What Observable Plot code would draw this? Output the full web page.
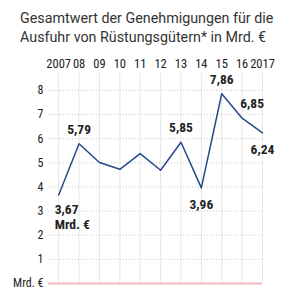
<!DOCTYPE html>
<html>
<head>
<meta charset="utf-8">
<script src="https://cdn.jsdelivr.net/npm/d3@7"></script>
<script src="https://cdn.jsdelivr.net/npm/@observablehq/plot@0.6"></script>
<style>
  html, body { margin: 0; padding: 0; background: #fff; width: 300px; height: 300px; overflow: hidden; }
  #title { font-family: Roboto, "Liberation Sans", sans-serif; font-size: 14.3px; line-height: 19px; color: #333; padding: 9px 0 0 20px; height: 41px; white-space: nowrap; }
  #chart svg { display: block; }
</style>
</head>
<body>
<div id="title">Gesamtwert der Genehmigungen für die<br>Ausfuhr von Rüstungsgütern* in Mrd. €</div>
<div id="chart"></div>
<script>
// Genehmigungswerte für Rüstungsexporte, Mrd. €
const years = [2007, 2008, 2009, 2010, 2011, 2012, 2013, 2014, 2015, 2016, 2017];
const values = [3.67, 5.79, 5.01, 4.73, 5.38, 4.69, 5.85, 3.96, 7.86, 6.85, 6.24];
const yTicks = [0, 1, 2, 3, 4, 5, 6, 7, 8];

// Beschriftete Punkte: Jahr, Text, Ausrichtung
const labelYears = [2007, 2008, 2013, 2014, 2015, 2016, 2017];
const labelTexts = ["3,67\nMrd. €", "5,79", "5,85", "3,96", "7,86", "6,85", "6,24"];
const labelPlace = ["belowLeft", "above", "above", "below", "above", "aboveRight", "below"];

const data = years.map((y, i) => ({year: y, value: values[i]}));
const labels = labelYears.map((y, i) => ({
  year: y,
  value: values[years.indexOf(y)],
  text: labelTexts[i],
  place: labelPlace[i]
}));

const condensed = '"Roboto Condensed", "Liberation Sans Narrow", "Arial Narrow", Roboto, sans-serif';
const offsets = {
  above: {dx: 0, dy: -10, anchor: "middle", va: "bottom"},
  below: {dx: 0, dy: 10, anchor: "middle", va: "top"},
  aboveRight: {dx: 10, dy: -10, anchor: "middle", va: "bottom"},
  belowLeft: {dx: -4, dy: 8, anchor: "start", va: "top"}
};

const chart = Plot.plot({
  width: 300,
  height: 250,
  marginTop: 23,
  marginBottom: 17,
  marginLeft: 48,
  marginRight: 38,
  style: {fontFamily: condensed, fontSize: "12px", color: "#222", background: "#fff"},
  x: {domain: [2006.5, 2017], axis: null},
  y: {domain: [0, 8.7], axis: null},
  marks: [
    Plot.ruleX(years, {stroke: "#e6e6e6", strokeWidth: 1}),
    Plot.ruleY(yTicks.filter(d => d > 0), {stroke: "#c8c8c8", strokeDasharray: "1,2", strokeWidth: 1}),
    Plot.ruleY([0], {stroke: "#f4b8c0", strokeWidth: 2}),
    Plot.axisX(years, {
      anchor: "top", label: null, tickSize: 0, tickPadding: 6, fontSize: 12.5, fill: "#222",
      tickFormat: d => (d === 2007 || d === 2017) ? String(d) : String(d).slice(2)
    }),
    Plot.axisY(yTicks, {
      anchor: "left", label: null, tickSize: 0, tickPadding: 5, fontSize: 12, fill: "#222",
      tickFormat: d => d === 0 ? "Mrd. €" : String(d)
    }),
    Plot.line(data, {x: "year", y: "value", stroke: "#27498a", strokeWidth: 1.5}),
    ...Object.entries(offsets).map(([key, o]) =>
      Plot.text(labels.filter(d => d.place === key), {
        x: "year", y: "value", text: "text",
        dx: o.dx, dy: o.dy, textAnchor: o.anchor, lineAnchor: o.va,
        fontSize: 13.5, fontWeight: "bold", fill: "#222", lineHeight: 1.15
      })
    )
  ]
});
document.getElementById("chart").appendChild(chart);
</script>
</body>
</html>
